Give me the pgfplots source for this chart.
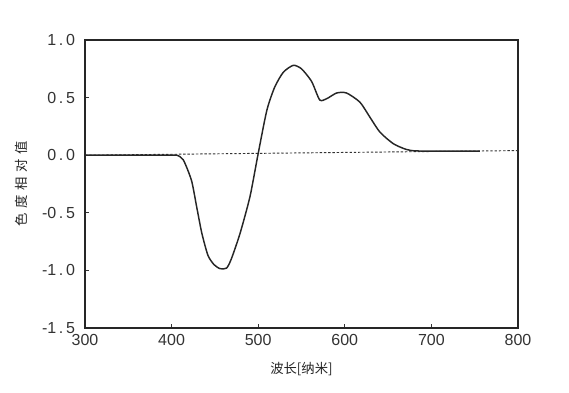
\documentclass[border=0pt]{standalone}
\usepackage{pgfplots}
\pgfplotsset{compat=1.18}
\usepackage{fontspec}
\setmainfont{Liberation Sans}
\newfontfamily\cjk{Noto Sans CJK SC}
\begin{document}
\begin{tikzpicture}
\path[use as bounding box] (-63.75pt,-48.75pt) rectangle (363pt,246pt);
\begin{axis}[
  at={(0,0)}, anchor=south west,
  scale only axis, width=324.75pt, height=216pt,
  xmin=300, xmax=800, ymin=-1.5, ymax=1.0,
  xtick={300,400,500,600,700,800},
  ytick={-1.5,-1,-0.5,0,0.5,1},
  yticklabels={{-1\,.\,5},{-1\,.\,0},{-0\,.\,5},{0\,.\,0},{0\,.\,5},{1\,.\,0}},
  xticklabels={300,400,500,600,700,800},
  tick align=inside, xtick pos=bottom, ytick pos=left,
  major tick length=3pt,
  tick style={black!80, line width=0.5pt},
  axis line style={black!85, line width=0.8pt},
  ticklabel style={font=\fontsize{12}{14}\selectfont, text=black!80},
  xticklabel style={yshift=-1pt},
  yticklabel style={xshift=-4pt},
  xlabel={\cjk 波长[纳米]},
  ylabel={\cjk 色\hspace{0.35em}度\hspace{0.35em}相\hspace{0.35em}对\hspace{0.35em}值},
  label style={font=\fontsize{10}{12}\selectfont, text=black!85},
  xlabel style={yshift=-6pt},
  ylabel style={yshift=4pt},
]
\addplot[black!80, line width=0.7pt, dash pattern=on 1.8pt off 1.4pt] coordinates {(300,0) (800,0.04)};
\addplot[black!85, line width=1.1pt, smooth, tension=0.4] coordinates {
(300,0) (350,0) (400,0) (406,0) (413.5,-0.04) (423,-0.22) (429,-0.45) (435,-0.68)
(442,-0.87) (449,-0.95) (456,-0.985) (463.5,-0.98) (469,-0.9) (479,-0.68) (490.5,-0.36)
(500,0.015) (510,0.39) (519,0.59) (529,0.72) (540.5,0.78) (550,0.75) (561.7,0.64)
(571,0.48) (579,0.49) (590.6,0.54) (602,0.54) (617.5,0.46) (629,0.33) (640.6,0.20)
(656,0.10) (671,0.05) (683,0.037) (720,0.035) (756,0.035)
};
\end{axis}
\end{tikzpicture}
\end{document}
